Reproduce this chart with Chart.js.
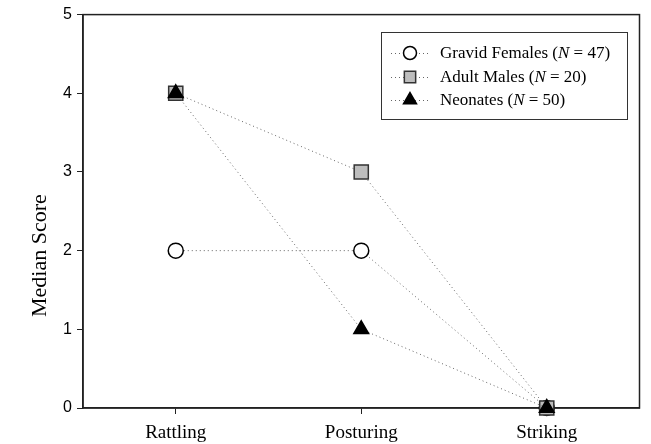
<!DOCTYPE html>
<html>
<head>
<meta charset="utf-8">
<script src="https://cdn.jsdelivr.net/npm/chart.js@4"></script>
<style>
  html, body { margin: 0; padding: 0; background: #fff; }
  #wrap { width: 651px; height: 444px; }
</style>
</head>
<body>
<div id="wrap"><canvas id="chart" width="651" height="444"></canvas></div>
<script>
const categories = ["Rattling", "Posturing", "Striking"];
const seriesNames = ["Gravid Females", "Adult Males", "Neonates"];
const seriesN = [47, 20, 50];
const gravidFemales = [2, 2, 0];
const adultMales = [4, 3, 0];
const neonates = [4, 1, 0];
const yTicks = [0, 1, 2, 3, 4, 5];
const yTitle = "Median Score";

const toPoints = (vals) => vals.map((v, i) => ({ x: i + 1, y: v }));

const serif = "'Liberation Serif', 'Times New Roman', serif";
const sans = "'Liberation Sans', Arial, sans-serif";

const lineStyle = {
  borderColor: "#666",
  borderWidth: 1,
  borderDash: [1, 3],
  pointBorderColor: "#000",
  pointBorderWidth: 1.5,
  showLine: true,
  tension: 0,
  clip: false
};

const datasets = [
  Object.assign({}, lineStyle, {
    label: seriesNames[0],
    data: toPoints(gravidFemales),
    pointStyle: "circle",
    pointRadius: 7.5,
    pointBackgroundColor: "#fff",
    order: 3
  }),
  Object.assign({}, lineStyle, {
    label: seriesNames[1],
    data: toPoints(adultMales),
    pointStyle: "rect",
    pointRadius: 10,
    pointBackgroundColor: "#bdbdbd",
    pointBorderColor: "#333",
    order: 2
  }),
  Object.assign({}, lineStyle, {
    label: seriesNames[2],
    data: toPoints(neonates),
    pointStyle: "triangle",
    pointRadius: 8.5,
    pointBackgroundColor: "#000",
    order: 1
  })
];

// box around the plot (under the markers), y title + custom legend
const framePlugin = {
  id: "frame",
  beforeDatasetsDraw(chart) {
    const { ctx, chartArea: a } = chart;
    ctx.save();
    ctx.strokeStyle = "#222";
    ctx.lineWidth = 1.5;
    ctx.strokeRect(a.left, a.top, a.right - a.left, a.bottom - a.top);
    ctx.restore();
  },
  afterDraw(chart) {
    const { ctx } = chart;
    const ys = chart.scales.y;
    ctx.save();

    // y axis title, sits a bit below the middle like the original
    ctx.save();
    ctx.translate(40, ys.getPixelForValue(2) + 5);
    ctx.rotate(-Math.PI / 2);
    ctx.font = "22px " + serif;
    ctx.fillStyle = "#000";
    ctx.textAlign = "center";
    ctx.textBaseline = "middle";
    ctx.fillText(yTitle, 0, 0);
    ctx.restore();

    const bx = 381, by = 32, bw = 246, bh = 87;
    ctx.lineWidth = 1;
    ctx.strokeStyle = "#333";
    ctx.fillStyle = "#fff";
    ctx.fillRect(bx, by, bw, bh);
    ctx.strokeRect(bx + 0.5, by + 0.5, bw, bh);

    const rowsY = [53, 77, 100];
    const radii = [6.5, 8, 7.5];
    chart.data.datasets.forEach((ds, i) => {
      const y = rowsY[i];
      const mx = 410;
      ctx.save();
      ctx.strokeStyle = "#666";
      ctx.lineWidth = 1;
      ctx.setLineDash([1, 3]);
      ctx.beginPath();
      ctx.moveTo(391, y + 0.5);
      ctx.lineTo(430, y + 0.5);
      ctx.stroke();
      ctx.restore();
      ctx.save();
      ctx.fillStyle = ds.pointBackgroundColor;
      ctx.strokeStyle = ds.pointBorderColor;
      ctx.lineWidth = 1.5;
      Chart.helpers.drawPoint(ctx, { pointStyle: ds.pointStyle, radius: radii[i], borderWidth: 1.5 }, mx, y);
      ctx.restore();

      ctx.fillStyle = "#000";
      ctx.textBaseline = "middle";
      let x = 440;
      const parts = [
        [ds.label + " (", "17px " + serif],
        ["N", "italic 17px " + serif],
        [" = " + seriesN[i] + ")", "17px " + serif]
      ];
      parts.forEach(([t, f]) => {
        ctx.font = f;
        ctx.fillText(t, x, y + 1);
        x += ctx.measureText(t).width;
      });
    });
    ctx.restore();
  }
};

new Chart(document.getElementById("chart"), {
  type: "scatter",
  data: { datasets },
  options: {
    responsive: false,
    animation: false,
    layout: { padding: { top: 14, right: 7, left: 0, bottom: 0 } },
    plugins: {
      legend: { display: false },
      tooltip: { enabled: false }
    },
    scales: {
      x: {
        type: "linear",
        min: 0.5,
        max: 3.5,
        afterBuildTicks: (scale) => { scale.ticks = categories.map((c, i) => ({ value: i + 1 })); },
        afterFit: (scale) => { scale.height = 36; },
        ticks: {
          color: "#000",
          font: { family: serif, size: 19 },
          padding: 8,
          maxRotation: 0,
          callback: (v) => categories[v - 1]
        },
        grid: { drawOnChartArea: false, drawTicks: true, tickLength: 6, color: "#222" },
        border: { color: "#222", width: 1.5 }
      },
      y: {
        min: 0,
        max: 5,
        afterBuildTicks: (scale) => { scale.ticks = yTicks.map(v => ({ value: v })); },
        afterFit: (scale) => { scale.width = 83; },
        ticks: {
          color: "#000",
          font: { family: sans, size: 16 },
          padding: 5
        },
        grid: { drawOnChartArea: false, drawTicks: true, tickLength: 6, color: "#222" },
        border: { color: "#222", width: 1.5 }
      }
    }
  },
  plugins: [framePlugin]
});
</script>
</body>
</html>
